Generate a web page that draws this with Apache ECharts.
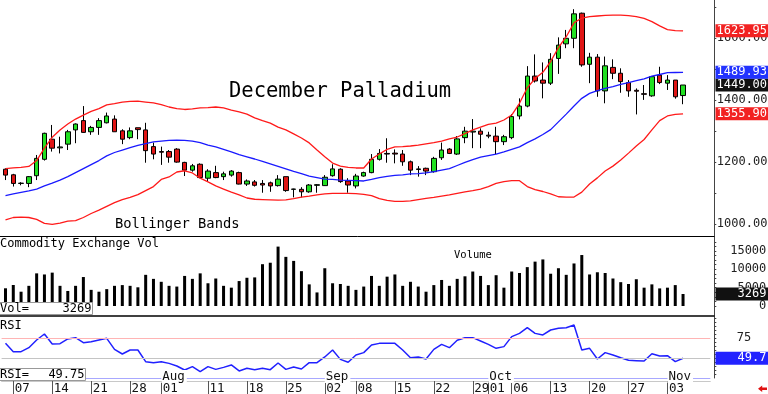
<!DOCTYPE html>
<html>
<head>
<meta charset="utf-8">
<script src="https://cdn.jsdelivr.net/npm/echarts@6/dist/echarts.min.js"></script>
<style>
html,body{margin:0;padding:0;background:#fff;}
#chart{width:768px;height:394px;}
</style>
</head>
<body>
<div id="chart"></div>
<script>
// ---- data ----
const dates = ['07-03','07-07','07-08','07-09','07-10','07-11','07-14','07-15','07-16','07-17','07-18','07-21','07-22','07-23','07-24','07-25','07-28','07-29','07-30','07-31',
'08-01','08-04','08-05','08-06','08-07','08-08','08-11','08-12','08-13','08-14','08-15','08-18','08-19','08-20','08-21','08-22','08-25','08-26','08-27','08-28','08-29',
'09-02','09-03','09-04','09-05','09-08','09-09','09-10','09-11','09-12','09-15','09-16','09-17','09-18','09-19','09-22','09-23','09-24','09-25','09-26','09-29','09-30',
'10-01','10-02','10-03','10-06','10-07','10-08','10-09','10-10','10-13','10-14','10-15','10-16','10-17','10-20','10-21','10-22','10-23','10-24','10-27','10-28','10-29','10-30','10-31',
'11-03','11-04','11-05'];
const tickDates = ['07-07','07-14','07-21','07-28','08-01','08-11','08-18','08-25','09-02','09-08','09-15','09-22','09-29','10-01','10-06','10-13','10-20','10-27','11-03'];
const monthStarts = ['08-01','09-02','10-01','11-03'];
const monthLabels = ['Aug','Sep','Oct','Nov'];

// [open, close, low, high]
const ohlc = [
[1177,1158,1142,1180],[1159,1131,1121,1162],[1131,1132,1125,1135],[1131,1153,1119,1155],[1156,1212,1142,1223],
[1209,1293,1205,1295],[1274,1245,1234,1320],[1246,1249,1228,1282],[1258,1298,1239,1304],[1304,1323,1261,1325],
[1334,1296,1295,1381],[1298,1312,1288,1317],[1312,1334,1288,1342],[1327,1349,1325,1360],[1339,1298,1298,1351],
[1301,1274,1258,1306],[1279,1301,1274,1312],[1311,1305,1274,1311],[1304,1237,1198,1327],[1250,1226,1209,1263],
[1234,1232,1191,1250],[1234,1216,1198,1239],[1242,1200,1198,1245],[1199,1174,1155,1201],[1174,1188,1169,1194],
[1193,1150,1148,1196],[1148,1171,1137,1177],[1166,1150,1148,1188],[1153,1162,1142,1169],[1158,1171,1153,1174],
[1166,1129,1128,1169],[1129,1139,1123,1144],[1136,1125,1121,1142],[1131,1126,1101,1142],[1133,1123,1104,1137],
[1124,1145,1121,1158],[1153,1108,1104,1153],[1112,1113,1086,1114],[1112,1104,1086,1119],[1104,1126,1101,1129],
[1125,1127,1101,1129],[1124,1151,1123,1158],[1156,1178,1153,1193],[1177,1137,1133,1180],[1139,1126,1101,1148],
[1123,1155,1115,1162],[1155,1166,1153,1169],[1166,1209,1164,1226],[1209,1228,1205,1242],[1228,1226,1198,1277],
[1229,1226,1196,1241],[1226,1201,1188,1239],[1201,1174,1158,1205],[1176,1178,1153,1187],[1180,1171,1158,1182],
[1169,1212,1166,1217],[1214,1239,1207,1263],[1242,1228,1226,1245],[1226,1275,1223,1284],[1279,1300,1261,1314],
[1297,1300,1245,1339],[1300,1290,1245,1309],[1287,1284,1277,1298],[1284,1266,1226,1314],[1266,1282,1255,1288],
[1279,1347,1274,1355],[1349,1381,1338,1406],[1381,1478,1377,1510],[1478,1462,1457,1548],[1465,1455,1406,1522],
[1455,1532,1449,1552],[1535,1578,1485,1603],[1582,1600,1568,1627],[1600,1679,1568,1694],[1681,1514,1508,1683],
[1516,1539,1455,1553],[1539,1430,1411,1549],[1430,1511,1390,1541],[1506,1487,1468,1532],[1487,1460,1424,1503],
[1457,1430,1411,1465],[1432,1429,1354,1438],[1421,1419,1401,1449],[1414,1476,1411,1478],[1481,1457,1452,1508],
[1455,1465,1433,1481],[1465,1411,1405,1465],[1415,1449,1387,1449]
];
const upper = [1179,1181,1183,1186,1205,1245,1280,1304,1323,1339,1352,1364,1373,1385,1389,1394,1396,1397,1394,1391,
1386,1378,1373,1370,1372,1375,1376,1378,1375,1368,1362,1355,1343,1334,1326,1313,1304,1291,1278,1262,
1239,1217,1197,1187,1183,1181,1181,1210,1226,1241,1249,1250,1252,1255,1259,1263,1268,1275,1281,1292,
1304,1313,1322,1326,1336,1352,1390,1440,1470,1490,1525,1570,1605,1650,1665,1670,1672,1674,1675,1675,
1673,1670,1664,1654,1640,1628,1625,1623.95];
const middle = [1092,1097,1102,1107,1113,1123,1132,1142,1153,1166,1179,1192,1205,1220,1231,1239,1247,1254,1260,1265,
1268,1270,1271,1270,1268,1263,1255,1249,1241,1233,1224,1217,1210,1202,1194,1186,1178,1170,1163,1155,
1150,1145,1144,1142,1141,1140,1139,1144,1150,1154,1157,1159,1162,1163,1165,1169,1174,1179,1189,1199,
1208,1216,1221,1226,1233,1241,1249,1263,1275,1289,1305,1330,1355,1381,1406,1422,1431,1438,1444,1451,
1457,1463,1469,1478,1483,1489,1489.5,1489.93];
const lower = [1013,1021,1022,1021,1015,1002,999,1003,1009,1011,1021,1034,1045,1057,1069,1079,1086,1095,1108,1121,
1144,1152,1168,1172,1165,1148,1136,1123,1113,1103,1094,1084,1080,1079,1078,1077,1078,1082,1087,1090,
1094,1097,1099,1099,1099,1098,1096,1092,1082,1076,1073,1073,1075,1079,1083,1086,1090,1094,1099,1104,
1108,1113,1121,1131,1137,1140,1140,1121,1111,1105,1097,1088,1087,1087,1103,1129,1149,1171,1187,1207,
1229,1252,1273,1304,1334,1349,1354,1355.90];
const volume = [4830,5730,3900,5500,8900,8600,9100,5500,4100,5500,7900,4400,3900,4600,5500,5700,5500,5100,8500,7400,
6600,5500,5300,8200,7400,8900,6200,7500,5500,5000,6800,7700,7800,11400,11800,16200,13400,12300,9500,5900,
3700,10300,6200,6000,5500,4400,5300,8200,5500,8000,8600,5500,6600,5300,3900,5700,7100,5500,7400,8100,
9400,8200,5700,8400,5000,9400,9000,10600,12100,12700,8800,10300,8500,11600,13900,8600,9200,9000,7500,6500,
6000,7300,5000,5900,4800,5000,5700,3269];
const rsi = [68.4,57.9,57.9,62.9,72.5,80,67.5,67.9,73.8,75.4,69.2,70.4,72.5,74.6,60.8,55,60,60,45.4,44.2,
45.4,43.3,40,35,39.2,32.9,39.2,35.8,38.3,41.3,33.8,37.1,35.4,37.1,35.4,43.8,35.8,38.8,36.3,44.2,
44.2,51.3,60,48.3,44.6,53.8,56.7,66.3,68.3,68.3,68.3,60,50.4,51.3,48.8,60.8,67.1,62.9,72.1,75.4,
75.4,71.3,67.1,62.1,64.2,76.7,80.8,87.9,80.8,78.8,85,87.1,87.9,91.3,60,62.1,48.8,56.7,53.8,50.4,
47.1,46.7,46.3,55.4,52.5,52.9,45.4,49.75];
const priceLabels = [1000,1200,1400,1600];
const priceTicks = [1000,1100,1200,1300,1400,1500,1600,1700];
const volLabels = [0,5000,10000,15000];
const rsiLabels = [75];
const rsiLevels = [75,50,25];

// ---- layout ----
const MONO = '"DejaVu Sans Mono", monospace';
const cats = dates.concat(['', '', '']);
const GL = 1.6, GR = 57.7;
const last = a => a[a.length - 1];
const range = (a, b, s) => { const r = []; for (let v = a; v <= b + 1e-9; v += s) r.push(v); return r; };

function valueLabel(bg, text, pad) {
  return {
    show: true, position: 'end', distance: 5.2,
    formatter: () => text,
    color: '#fff', backgroundColor: bg, opacity: 1,
    fontFamily: MONO, fontSize: 12, lineHeight: 12,
    padding: pad
  };
}
function hiddenLine() { return { color: 'rgba(0,0,0,0)', width: 0, opacity: 1 }; }

const chart = echarts.init(document.getElementById('chart'), null, { renderer: 'canvas' });

const yBase = {
  type: 'value', position: 'right', offset: 4, scale: true,
  splitLine: { show: false },
  axisLine: { show: true, lineStyle: { color: '#444', width: 1 } },
  axisTick: { show: true, length: 2, lineStyle: { color: '#444' } }
};

function valueMark(yv, bg, text, pad) {
  return { silent: true, symbol: 'none', animation: false, clip: false,
    data: [{ yAxis: yv, lineStyle: hiddenLine(), label: valueLabel(bg, text, pad) }] };
}

const option = {
  animation: false,
  backgroundColor: '#fff',
  grid: [
    { left: GL, right: GR, top: 0, height: 237, outerBoundsMode: 'none', containLabel: false },
    { left: GL, right: GR, top: 237, height: 79, outerBoundsMode: 'none', containLabel: false },
    { left: GL, right: GR, top: 316, height: 62, outerBoundsMode: 'none', containLabel: false }
  ],
  xAxis: [
    { type: 'category', data: cats, gridIndex: 0, show: false },
    { type: 'category', data: cats, gridIndex: 1, show: false },
    { type: 'category', data: cats, gridIndex: 2, position: 'bottom', offset: 3, z: 10,
      axisLine: { show: true, lineStyle: { color: '#c8c8c8', width: 1 } },
      axisTick: { show: true, alignWithLabel: true, length: 13, lineStyle: { color: '#555' },
        interval: (i, v) => tickDates.indexOf(v) >= 0 },
      axisLabel: { show: true, interval: (i, v) => tickDates.indexOf(v) >= 0, hideOverlap: false,
        formatter: v => v.slice(3), align: 'left', padding: [0, 0, 0, 1.5], margin: 1,
        fontFamily: MONO, fontSize: 12.5, color: '#111' },
      splitLine: { show: false }
    },
    { type: 'category', data: cats, gridIndex: 2, position: 'bottom', offset: 0, z: 11,
      axisLine: { show: false }, axisTick: { show: false },
      axisLabel: { show: true, interval: (i, v) => monthStarts.indexOf(v) >= 0, hideOverlap: false,
        formatter: v => monthLabels[monthStarts.indexOf(v)], align: 'left', verticalAlign: 'middle',
        margin: -1.5, backgroundColor: '#fff', padding: [0, 2, 0, 1],
        fontFamily: MONO, fontSize: 12.5, color: '#111' },
      splitLine: { show: false }
    }
  ],
  yAxis: [
    Object.assign({}, yBase, { gridIndex: 0, min: 958, max: 1723.7,
      axisTick: { show: true, length: 2, customValues: priceTicks, lineStyle: { color: '#444' } },
      axisLabel: { customValues: priceLabels, formatter: v => v.toFixed(2), margin: 2.5,
        fontFamily: MONO, fontSize: 12, color: '#222' } }),
    Object.assign({}, yBase, { gridIndex: 1, min: -2727, max: 18817,
      axisTick: { show: true, length: 2, customValues: range(0, 17500, 1250), lineStyle: { color: '#444' } },
      axisLabel: { customValues: volLabels, formatter: v => String(v), margin: 52, align: 'right',
        fontFamily: MONO, fontSize: 12, color: '#222' } }),
    Object.assign({}, yBase, { gridIndex: 2, min: 25, max: 102.5,
      axisTick: { show: true, length: 2, customValues: range(30, 100, 5), lineStyle: { color: '#444' } },
      axisLabel: { customValues: rsiLabels, formatter: v => String(v), margin: 22.5,
        fontFamily: MONO, fontSize: 12, color: '#222' } })
  ],
  series: [
    { type: 'candlestick', name: 'December Palladium', xAxisIndex: 0, yAxisIndex: 0, data: ohlc, barWidth: 5, z: 2,
      itemStyle: { color: '#22e022', color0: '#e01515', borderColor: '#000', borderColor0: '#000', borderWidth: 1 },
      markLine: valueMark(last(ohlc)[1], '#111', last(ohlc)[1].toFixed(2), [1, 3, 0, 1]) },
    { type: 'line', name: 'Upper', xAxisIndex: 0, yAxisIndex: 0, data: upper, symbol: 'none', z: 3,
      lineStyle: { color: '#ff1a1a', width: 1.3 },
      markLine: valueMark(last(upper), '#f22222', last(upper).toFixed(2), [1, 3, 0, 1]) },
    { type: 'line', name: 'Middle', xAxisIndex: 0, yAxisIndex: 0, data: middle, symbol: 'none', z: 3,
      lineStyle: { color: '#1a1aff', width: 1.3 },
      markLine: valueMark(last(middle), '#2233ff', last(middle).toFixed(2), [1, 3, 0, 1]) },
    { type: 'line', name: 'Lower', xAxisIndex: 0, yAxisIndex: 0, data: lower, symbol: 'none', z: 3,
      lineStyle: { color: '#ff1a1a', width: 1.3 },
      markLine: valueMark(last(lower), '#f22222', last(lower).toFixed(2), [1, 3, 0, 1]) },
    { type: 'bar', name: 'Volume', xAxisIndex: 1, yAxisIndex: 1, data: volume, barWidth: 3,
      itemStyle: { color: '#000' },
      markLine: valueMark(last(volume), '#111', String(last(volume)), [1, 2, 0, 22]) },
    { type: 'line', name: 'RSI', xAxisIndex: 2, yAxisIndex: 2, data: rsi, symbol: 'none', z: 3,
      lineStyle: { color: '#2020ff', width: 1.5 },
      markLine: { silent: true, symbol: 'none', animation: false, clip: false,
        data: [
          { yAxis: rsiLevels[0], lineStyle: { color: '#ffb4b4', width: 1, type: 'solid' }, label: { show: false } },
          { yAxis: rsiLevels[1], lineStyle: { color: '#c4c4c4', width: 1, type: 'solid' }, label: { show: false } },
          { yAxis: rsiLevels[2], lineStyle: { color: '#a8a8ff', width: 1, type: 'solid' }, label: { show: false } },
          { yAxis: last(rsi), lineStyle: hiddenLine(), label: valueLabel('#2222ff', String(Math.floor(last(rsi) * 10) / 10), [1, 2, 0, 22]) }
        ] } }
  ],
  graphic: [
    { type: 'line', z: 20, shape: { x1: 0, y1: 236.5, x2: 714.5, y2: 236.5 }, style: { stroke: '#000', lineWidth: 1 } },
    { type: 'line', z: 20, shape: { x1: 0, y1: 316, x2: 714.5, y2: 316 }, style: { stroke: '#000', lineWidth: 1.5 } },
    { type: 'text', z: 20, x: 229, y: 91.5, style: { text: 'December Palladium', font: '20.5px ' + MONO, fill: '#000', verticalAlign: 'middle' } },
    { type: 'text', z: 20, x: 115, y: 224.3, style: { text: 'Bollinger Bands', font: '13.8px ' + MONO, fill: '#000', verticalAlign: 'middle' } },
    { type: 'text', z: 20, x: 0, y: 243.8, style: { text: 'Commodity Exchange Vol', font: '12px ' + MONO, fill: '#000', verticalAlign: 'middle' } },
    { type: 'text', z: 20, x: 454, y: 255, style: { text: 'Volume', font: '10.5px ' + MONO, fill: '#000', verticalAlign: 'middle' } },
    { type: 'text', z: 20, x: 0, y: 325.5, style: { text: 'RSI', font: '12px ' + MONO, fill: '#000', verticalAlign: 'middle' } },
    { type: 'rect', z: 20, shape: { x: -1, y: 302.5, width: 93.5, height: 12 }, style: { fill: '#fff', stroke: '#999', lineWidth: 1 } },
    { type: 'text', z: 21, x: 0, y: 308.8, style: { text: 'Vol=', font: '12px ' + MONO, fill: '#000', verticalAlign: 'middle' } },
    { type: 'text', z: 21, x: 91.5, y: 308.8, style: { text: String(last(volume)), font: '12px ' + MONO, fill: '#000', align: 'right', verticalAlign: 'middle' } },
    { type: 'rect', z: 20, shape: { x: -1, y: 368.5, width: 86.5, height: 12 }, style: { fill: '#fff', stroke: '#999', lineWidth: 1 } },
    { type: 'text', z: 21, x: 0, y: 374.8, style: { text: 'RSI=', font: '12px ' + MONO, fill: '#000', verticalAlign: 'middle' } },
    { type: 'text', z: 21, x: 84.5, y: 374.8, style: { text: last(rsi).toFixed(2), font: '12px ' + MONO, fill: '#000', align: 'right', verticalAlign: 'middle' } },
    { type: 'polygon', z: 20, shape: { points: [[758, 388.8], [762.2, 385.6], [762.2, 387.6], [767, 387.6], [767, 390], [762.2, 390], [762.2, 392]] }, style: { fill: '#e01010' } }
  ]
};
chart.setOption(option);
</script>
</body>
</html>
